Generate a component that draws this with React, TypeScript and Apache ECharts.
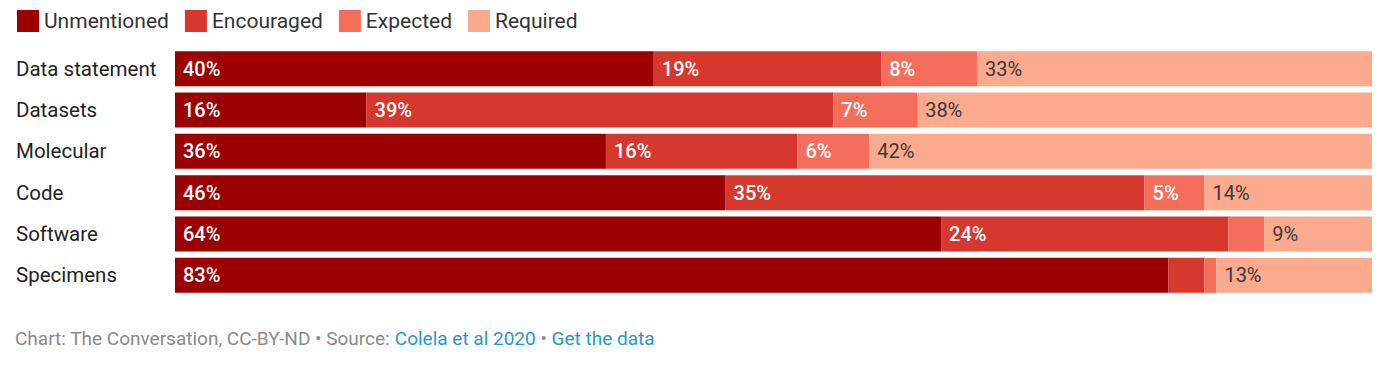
import React, { useEffect, useRef } from "react";
import * as echarts from "echarts";

const categories = ["Data statement", "Datasets", "Molecular", "Code", "Software", "Specimens"];
const seriesNames = ["Unmentioned", "Encouraged", "Expected", "Required"];
const unmentioned = [40, 16, 36, 46, 64, 83];
const encouraged = [19, 39, 16, 35, 24, 3];
const expected = [8, 7, 6, 5, 3, 1];
const required = [33, 38, 42, 14, 9, 13];
const colors = ["#9d0000", "#d7382d", "#f56e5b", "#fcaa8d"];
const labelColors = ["#ffffff", "#ffffff", "#ffffff", "#3a3a3a"];
const labelWeights = [500, 500, 500, "normal"];

export default function App() {
  const ref = useRef<HTMLDivElement>(null);
  useEffect(() => {
    document.body.style.margin = "0";
    const chart = echarts.init(ref.current!, null, { renderer: "svg" });
    const data = [unmentioned, encouraged, expected, required];
    chart.setOption({
      animation: false,
      backgroundColor: "#ffffff",
      textStyle: { fontFamily: "Roboto" },
      legend: {
        left: 12,
        top: 5,
        itemWidth: 22,
        itemHeight: 22,
        itemGap: 16,
        icon: "rect",
        selectedMode: false,
        textStyle: { fontSize: 21, color: "#333333", fontFamily: "Roboto", padding: [0, 0, 0, 0] },
        data: seriesNames,
      },
      grid: { left: 175, right: 20, top: 48, height: 248 },
      xAxis: { type: "value", min: 0, max: 100, show: false },
      yAxis: {
        type: "category",
        data: categories,
        inverse: true,
        axisLine: { show: false },
        axisTick: { show: false },
        axisLabel: {
          align: "left",
          margin: 159,
          fontSize: 20.5,
          color: "#222222",
          fontFamily: "Roboto",
        },
      },
      series: seriesNames.map((name, i) => ({
        name,
        type: "bar",
        stack: "total",
        barWidth: 35,
        itemStyle: { color: colors[i] },
        label: {
          show: true,
          position: "insideLeft",
          distance: 8,
          fontSize: 20,
          fontWeight: labelWeights[i],
          fontFamily: "Roboto",
          color: labelColors[i],
          formatter: (p: any) => (p.value >= 5 ? `${p.value}%` : ""),
        },
        data: data[i],
      })),
      graphic: [
        {
          type: "text",
          left: 15,
          top: 329,
          style: {
            text: "{a|Chart: The Conversation, CC-BY-ND • Source: }{b|Colela et al 2020}{a| • }{b|Get the data}",
            rich: {
              a: { fontSize: 19, fill: "#8a8a8a", fontFamily: "Roboto" },
              b: { fontSize: 19, fill: "#1f9ac9", fontFamily: "Roboto" },
            },
          },
        },
      ],
    });
    return () => chart.dispose();
  }, []);
  return <div ref={ref} style={{ width: 1392, height: 382 }} />;
}
